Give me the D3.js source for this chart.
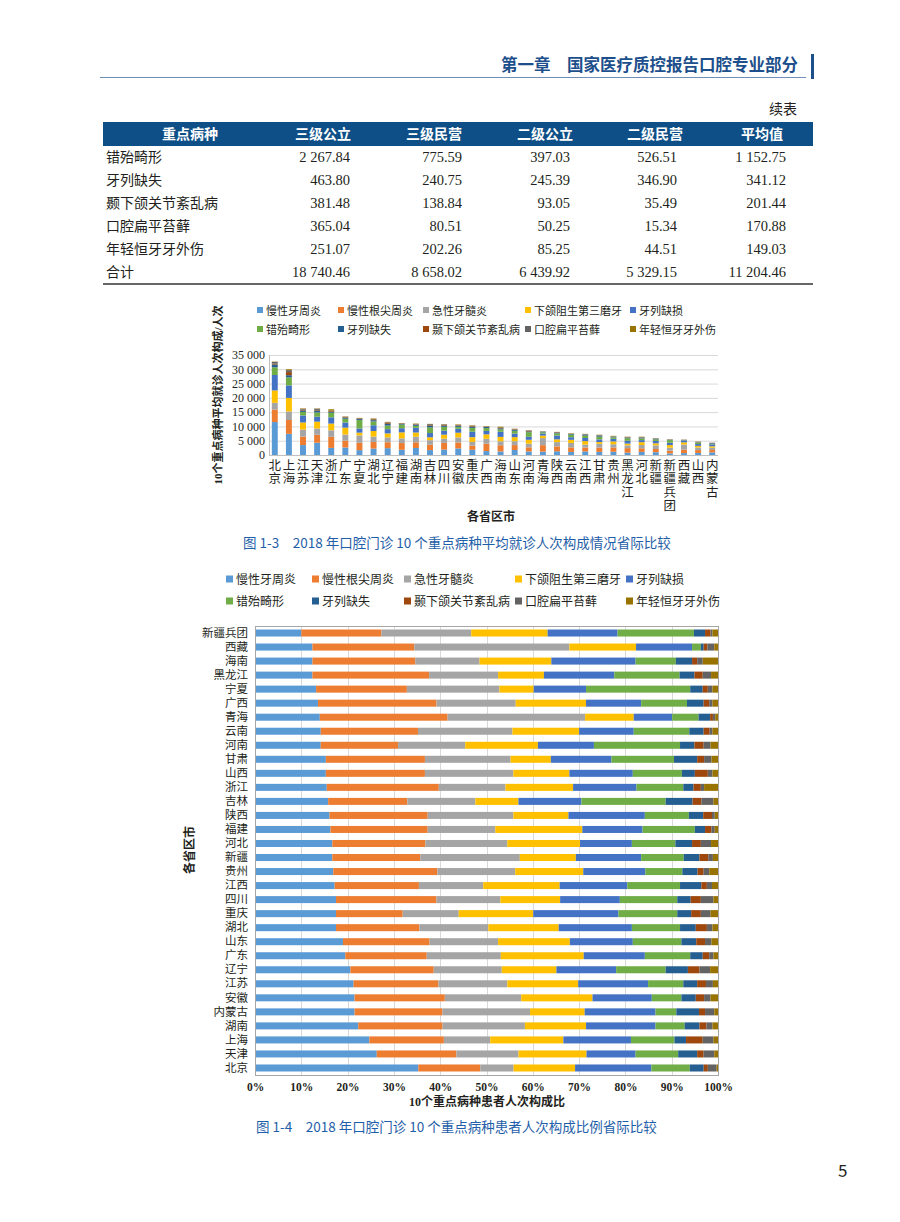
<!DOCTYPE html>
<html>
<head>
<meta charset="utf-8">
<script src="https://cdn.jsdelivr.net/npm/d3@7"></script>
<style>
body { margin: 0; background: #fff; }
svg { display: block; }
text { font-family: "Liberation Serif", "Noto Sans CJK SC", serif; fill: #231f20; }
.sans { font-family: "Noto Sans CJK SC", "Noto Sans", sans-serif; }
</style>
</head>
<body>
<svg width="900" height="1222"></svg>
<script>
'use strict';

// ---- table data ----
var tableHead = ['重点病种', '三级公立', '三级民营', '二级公立', '二级民营', '平均值'];
var tableRows = ['错殆畸形', '牙列缺失', '颞下颌关节紊乱病', '口腔扁平苔藓', '年轻恒牙牙外伤', '合计'];
var tier3Public = ['2 267.84', '463.80', '381.48', '365.04', '251.07', '18 740.46'];
var tier3Private = ['775.59', '240.75', '138.84', '80.51', '202.26', '8 658.02'];
var tier2Public = ['397.03', '245.39', '93.05', '50.25', '85.25', '6 439.92'];
var tier2Private = ['526.51', '346.90', '35.49', '15.34', '44.51', '5 329.15'];
var average = ['1 152.75', '341.12', '201.44', '170.88', '149.03', '11 204.46'];

// ---- chart data ----
var diseases = ['慢性牙周炎', '慢性根尖周炎', '急性牙髓炎', '下颌阻生第三磨牙', '牙列缺损',
    '错殆畸形', '牙列缺失', '颞下颌关节紊乱病', '口腔扁平苔藓', '年轻恒牙牙外伤'];
var colors = ['#5b9bd5', '#ed7d31', '#a5a5a5', '#ffc000', '#4472c4',
    '#70ad47', '#255e91', '#9e480e', '#636363', '#997300'];

// figure 1-4 order (top to bottom)
var provinces = ['新疆兵团', '西藏', '海南', '黑龙江', '宁夏', '广西', '青海', '云南', '河南', '甘肃',
    '山西', '浙江', '吉林', '陕西', '福建', '河北', '新疆', '贵州', '江西', '四川', '重庆', '湖北',
    '山东', '广东', '辽宁', '江苏', '安徽', '内蒙古', '湖南', '上海', '天津', '北京'];

// share of patient visits, %
var chronicPerio = [10.0, 12.4, 12.4, 12.4, 13.2, 13.6, 14.0, 14.2, 14.2, 15.3, 15.3, 15.5, 15.8, 16.1, 16.3, 16.7,
    16.7, 16.9, 17.2, 17.5, 17.5, 17.5, 19.0, 19.5, 20.6, 21.3, 21.5, 21.5, 22.3, 24.7, 26.3, 35.3];
var apicalPerio = [17.3, 22.0, 22.2, 25.2, 19.6, 25.6, 27.6, 21.0, 16.7, 21.4, 21.4, 24.2, 17.1, 21.2, 21.0, 20.1,
    19.0, 22.5, 18.2, 21.7, 14.4, 18.0, 18.7, 17.6, 18.0, 18.3, 19.5, 19.0, 18.2, 16.1, 17.2, 13.4];
var pulpitis = [19.4, 33.5, 13.9, 14.9, 20.0, 17.1, 29.7, 20.4, 14.5, 18.5, 19.1, 14.4, 14.7, 18.5, 14.6, 17.7,
    21.5, 16.8, 13.9, 13.8, 12.1, 14.9, 14.8, 16.0, 14.7, 14.9, 16.5, 18.9, 17.8, 10.0, 13.4, 7.2];
var wisdomTooth = [16.5, 14.4, 15.5, 9.9, 7.4, 15.2, 10.5, 14.4, 15.7, 8.7, 12.1, 14.6, 9.3, 11.9, 18.8, 15.7,
    12.1, 14.7, 16.5, 12.9, 16.1, 15.2, 15.5, 17.9, 11.8, 15.3, 15.4, 11.8, 13.2, 15.8, 14.7, 13.3];
var dentitionDefect = [15.1, 12.1, 18.2, 15.2, 11.3, 11.9, 8.3, 11.8, 12.1, 13.1, 13.7, 13.7, 13.6, 16.5, 13.0, 11.2,
    14.1, 13.4, 14.6, 12.9, 18.4, 15.8, 13.6, 13.2, 12.9, 15.1, 12.8, 15.3, 15.0, 14.6, 10.6, 16.5];
var malocclusion = [16.5, 1.9, 8.7, 14.1, 22.5, 9.9, 5.7, 12.0, 18.6, 13.5, 10.6, 10.1, 18.2, 9.5, 11.3, 9.4,
    9.2, 8.0, 11.4, 12.4, 12.7, 10.4, 10.5, 9.8, 10.7, 7.6, 6.4, 4.5, 6.3, 9.4, 9.2, 8.3];
var edentulism = [2.4, 0.6, 3.5, 3.2, 2.7, 3.6, 2.5, 3.1, 3.1, 5.0, 2.8, 2.2, 5.8, 3.1, 2.2, 3.6,
    3.4, 3.3, 4.6, 2.9, 3.0, 3.4, 3.2, 2.7, 4.8, 3.0, 3.1, 4.9, 3.2, 2.5, 4.1, 3.0];
var tmd = [1.2, 0.8, 1.1, 1.8, 1.1, 1.2, 0.6, 1.3, 2.0, 1.5, 2.8, 1.6, 1.9, 1.9, 1.4, 1.9,
    1.9, 1.3, 1.2, 2.2, 2.1, 2.4, 1.9, 1.4, 2.5, 1.9, 1.8, 1.3, 1.5, 3.6, 1.4, 0.9];
var lichenPlanus = [0.4, 1.5, 1.2, 1.8, 1.0, 0.7, 0.5, 0.6, 1.5, 1.6, 1.0, 0.7, 2.6, 0.6, 0.7, 2.2,
    1.0, 1.2, 1.1, 2.7, 2.1, 1.2, 1.4, 0.9, 2.3, 1.5, 1.4, 2.0, 1.3, 2.3, 2.3, 1.9];
var dentalTrauma = [1.2, 0.8, 3.3, 1.5, 1.2, 1.2, 0.6, 1.2, 1.6, 1.4, 1.2, 3.0, 1.0, 0.7, 0.7, 1.5,
    1.1, 1.9, 1.3, 1.0, 1.6, 1.2, 1.4, 1.0, 1.7, 1.1, 1.6, 0.8, 1.2, 1.0, 0.8, 0.3];
var shares = [chronicPerio, apicalPerio, pulpitis, wisdomTooth, dentitionDefect,
    malocclusion, edentulism, tmd, lichenPlanus, dentalTrauma];

// figure 1-3 order and average visits (all 10 diseases)
var rankOrder = ['北京', '上海', '江苏', '天津', '浙江', '广东', '宁夏', '湖北', '辽宁', '福建', '湖南',
    '吉林', '四川', '安徽', '重庆', '广西', '海南', '山东', '河南', '青海', '陕西', '云南', '江西', '甘肃',
    '贵州', '黑龙江', '河北', '新疆', '新疆兵团', '西藏', '山西', '内蒙古'];
var visitTotals = [32700, 30000, 16300, 16300, 16000, 13500, 13000, 12800, 11600, 11200, 11000,
    10900, 10800, 10700, 10400, 10100, 9900, 9200, 8700, 8300, 8100, 7600, 7400, 7100,
    6700, 6400, 6400, 5900, 5500, 5400, 4700, 4300];
var visitTicks = [0, 5000, 10000, 15000, 20000, 25000, 30000, 35000];
var pctTicks = [0, 0.1, 0.2, 0.3, 0.4, 0.5, 0.6, 0.7, 0.8, 0.9, 1];

var svg = d3.select('svg');
var blue = '#1d4f8c';
var keys = d3.range(diseases.length);

// ---- page header ----
svg.append('line')
    .attr('x1', 100).attr('x2', 806).attr('y1', 77.5).attr('y2', 77.5)
    .attr('stroke', '#6f8fb8').attr('stroke-width', 1);
svg.append('rect')
    .attr('x', 811).attr('y', 54).attr('width', 3).attr('height', 25)
    .attr('fill', blue);
svg.append('text')
    .attr('class', 'sans')
    .attr('x', 798).attr('y', 71)
    .attr('text-anchor', 'end')
    .attr('font-size', 16.5).attr('font-weight', 'bold')
    .style('fill', blue)
    .text('第一章　国家医疗质控报告口腔专业部分');

// ---- table ----
svg.append('text')
    .attr('x', 797).attr('y', 114)
    .attr('text-anchor', 'end')
    .attr('font-size', 14)
    .text('续表');

svg.append('rect')
    .attr('x', 103).attr('y', 122).attr('width', 710).attr('height', 24)
    .attr('fill', '#0f4f87');

var headX = [190, 323, 434, 545, 655, 762];
svg.selectAll('.thead')
    .data(tableHead)
    .enter()
    .append('text')
    .attr('class', 'thead sans')
    .attr('x', function(d, i) { return headX[i]; })
    .attr('y', 139)
    .attr('text-anchor', 'middle')
    .attr('font-size', 14).attr('font-weight', 'bold')
    .style('fill', '#fff')
    .text(function(d) { return d; });

var rowY = function(i) { return 162 + i * 23; };
svg.selectAll('.trow')
    .data(tableRows)
    .enter()
    .append('text')
    .attr('class', 'trow')
    .attr('x', 106)
    .attr('y', function(d, i) { return rowY(i); })
    .attr('font-size', 14)
    .text(function(d) { return d; });

var columns = [tier3Public, tier3Private, tier2Public, tier2Private, average];
var colRight = [350, 462, 570, 677, 786];
columns.forEach(function(col, c) {
    svg.selectAll('.tcol' + c)
        .data(col)
        .enter()
        .append('text')
        .attr('class', 'tcol' + c)
        .attr('x', colRight[c])
        .attr('y', function(d, i) { return rowY(i); })
        .attr('text-anchor', 'end')
        .attr('font-size', 14.5)
        .text(function(d) { return d; });
});
svg.append('line')
    .attr('x1', 103).attr('x2', 813).attr('y1', 284).attr('y2', 284)
    .attr('stroke', '#333').attr('stroke-width', 1.5);

// ---- legend helper ----
function legend(xs, y1, y2, size, fontSize) {
    var g = svg.append('g');
    diseases.forEach(function(name, i) {
        var x = xs[i % 5];
        var y = i < 5 ? y1 : y2;
        g.append('rect')
            .attr('x', x).attr('y', y - size / 2 - 1)
            .attr('width', size).attr('height', size)
            .attr('fill', colors[i]);
        g.append('text')
            .attr('x', x + size + 3).attr('y', y + fontSize * 0.36)
            .attr('font-size', fontSize)
            .text(name);
    });
}

// ---- figure 1-3 ----
var lookup = {};
provinces.forEach(function(p, i) { lookup[p] = i; });

var rankRows = rankOrder.map(function(p, r) {
    var idx = lookup[p];
    var sum = d3.sum(shares, function(s) { return s[idx]; });
    var row = { name: p };
    shares.forEach(function(s, k) { row[k] = visitTotals[r] * s[idx] / sum; });
    return row;
});

var c1 = { left: 269, right: 718, top: 355, bottom: 455 };
var x1 = d3.scaleBand().domain(rankOrder).range([c1.left, c1.right]).paddingInner(0.58).paddingOuter(0.2);
var y1 = d3.scaleLinear().domain([0, 35000]).range([c1.bottom, c1.top]);

legend([257, 338, 423, 525, 630], 311, 330, 6, 11);

var chart1 = svg.append('g');
chart1.selectAll('.grid1')
    .data(visitTicks)
    .enter()
    .append('line')
    .attr('x1', c1.left).attr('x2', c1.right)
    .attr('y1', function(d) { return y1(d) + 0.5; })
    .attr('y2', function(d) { return y1(d) + 0.5; })
    .attr('stroke', function(d) { return d === 0 ? '#bfbfbf' : '#d9d9d9'; });
chart1.append('line')
    .attr('x1', c1.left + 0.5).attr('x2', c1.left + 0.5)
    .attr('y1', c1.top).attr('y2', c1.bottom)
    .attr('stroke', '#bfbfbf');

var axisY1 = d3.axisLeft(y1)
    .tickValues(visitTicks)
    .tickSize(0)
    .tickPadding(4)
    .tickFormat(function(d) { return d3.format(',')(d).replace(',', ' '); });
chart1.append('g')
    .attr('transform', 'translate(' + c1.left + ',0)')
    .call(axisY1)
    .call(function(g) { g.select('.domain').remove(); })
    .selectAll('text')
    .attr('font-size', 12)
    .style('font-family', '"Liberation Serif", serif');

var stack1 = d3.stack().keys(keys)(rankRows);
chart1.selectAll('.s1')
    .data(stack1)
    .enter()
    .append('g')
    .attr('fill', function(d, i) { return colors[i]; })
    .selectAll('rect')
    .data(function(d) { return d; })
    .enter()
    .append('rect')
    .attr('x', function(d) { return x1(d.data.name); })
    .attr('width', x1.bandwidth())
    .attr('y', function(d) { return y1(d[1]); })
    .attr('height', function(d) { return Math.max(0, y1(d[0]) - y1(d[1])); });

// stacked vertical province names
rankOrder.forEach(function(p) {
    var cx = x1(p) + x1.bandwidth() / 2;
    p.split('').forEach(function(ch, j) {
        chart1.append('text')
            .attr('x', cx).attr('y', 470 + j * 13.3)
            .attr('text-anchor', 'middle')
            .attr('font-size', 12.5)
            .text(ch);
    });
});

svg.append('text')
    .attr('transform', 'translate(222,395) rotate(-90)')
    .attr('text-anchor', 'middle')
    .attr('font-size', 11).attr('font-weight', 'bold')
    .text('10个重点病种平均就诊人次构成/人次');
svg.append('text')
    .attr('x', 491).attr('y', 521)
    .attr('text-anchor', 'middle')
    .attr('font-size', 12).attr('font-weight', 'bold')
    .text('各省区市');
svg.append('text')
    .attr('class', 'sans')
    .attr('x', 243).attr('y', 548)
    .attr('font-size', 13.5)
    .style('fill', '#1f5ea8')
    .text('图 1-3　2018 年口腔门诊 10 个重点病种平均就诊人次构成情况省际比较');

// ---- figure 1-4 ----
legend([226, 312, 404, 515, 626], 580, 602, 7, 12);

var c2 = { left: 255, right: 718, top: 626, bottom: 1075 };
var y2 = d3.scaleBand().domain(provinces).range([c2.top, c2.bottom]).paddingInner(0.5).paddingOuter(0.25);
var x2 = d3.scaleLinear().domain([0, 1]).range([c2.left, c2.right]);

var rows2 = provinces.map(function(p, i) {
    var row = { name: p };
    shares.forEach(function(s, k) { row[k] = s[i]; });
    return row;
});

var chart2 = svg.append('g');
chart2.selectAll('.grid2')
    .data(pctTicks)
    .enter()
    .append('line')
    .attr('x1', function(d) { return Math.round(x2(d)) + 0.5; })
    .attr('x2', function(d) { return Math.round(x2(d)) + 0.5; })
    .attr('y1', c2.top).attr('y2', c2.bottom)
    .attr('stroke', '#d9d9d9');

var stack2 = d3.stack().keys(keys).offset(d3.stackOffsetExpand)(rows2);
chart2.selectAll('.s2')
    .data(stack2)
    .enter()
    .append('g')
    .attr('fill', function(d, i) { return colors[i]; })
    .selectAll('rect')
    .data(function(d) { return d; })
    .enter()
    .append('rect')
    .attr('y', function(d) { return y2(d.data.name); })
    .attr('height', y2.bandwidth())
    .attr('x', function(d) { return x2(d[0]); })
    .attr('width', function(d) { return Math.max(0, x2(d[1]) - x2(d[0])); });

chart2.append('rect')
    .attr('x', c2.left + 0.5).attr('y', c2.top + 0.5)
    .attr('width', c2.right - c2.left).attr('height', c2.bottom - c2.top)
    .attr('fill', 'none')
    .attr('stroke', '#a6a6a6');

var axisY2 = d3.axisLeft(y2).tickSize(0).tickPadding(7);
chart2.append('g')
    .attr('transform', 'translate(' + c2.left + ',0)')
    .call(axisY2)
    .call(function(g) { g.select('.domain').remove(); })
    .selectAll('text')
    .attr('font-size', 11.5)
    .style('font-family', '"Noto Sans CJK SC", sans-serif')
    .style('fill', '#231f20');

var axisX2 = d3.axisBottom(x2)
    .tickValues(pctTicks)
    .tickSize(0)
    .tickPadding(8)
    .tickFormat(d3.format('.0%'));
chart2.append('g')
    .attr('transform', 'translate(0,' + c2.bottom + ')')
    .call(axisX2)
    .call(function(g) { g.select('.domain').remove(); })
    .selectAll('text')
    .attr('font-size', 11.5).attr('font-weight', 'bold')
    .style('font-family', '"Liberation Serif", serif')
    .style('fill', '#231f20');

svg.append('text')
    .attr('transform', 'translate(194,850) rotate(-90)')
    .attr('text-anchor', 'middle')
    .attr('font-size', 12).attr('font-weight', 'bold')
    .text('各省区市');
svg.append('text')
    .attr('x', 487).attr('y', 1106)
    .attr('text-anchor', 'middle')
    .attr('font-size', 12).attr('font-weight', 'bold')
    .text('10个重点病种患者人次构成比');
svg.append('text')
    .attr('class', 'sans')
    .attr('x', 256).attr('y', 1132)
    .attr('font-size', 13.5)
    .style('fill', '#1f5ea8')
    .text('图 1-4　2018 年口腔门诊 10 个重点病种患者人次构成比例省际比较');

svg.append('text')
    .attr('class', 'sans')
    .attr('x', 838).attr('y', 1177)
    .attr('font-size', 17)
    .text('5');
</script>
</body>
</html>
